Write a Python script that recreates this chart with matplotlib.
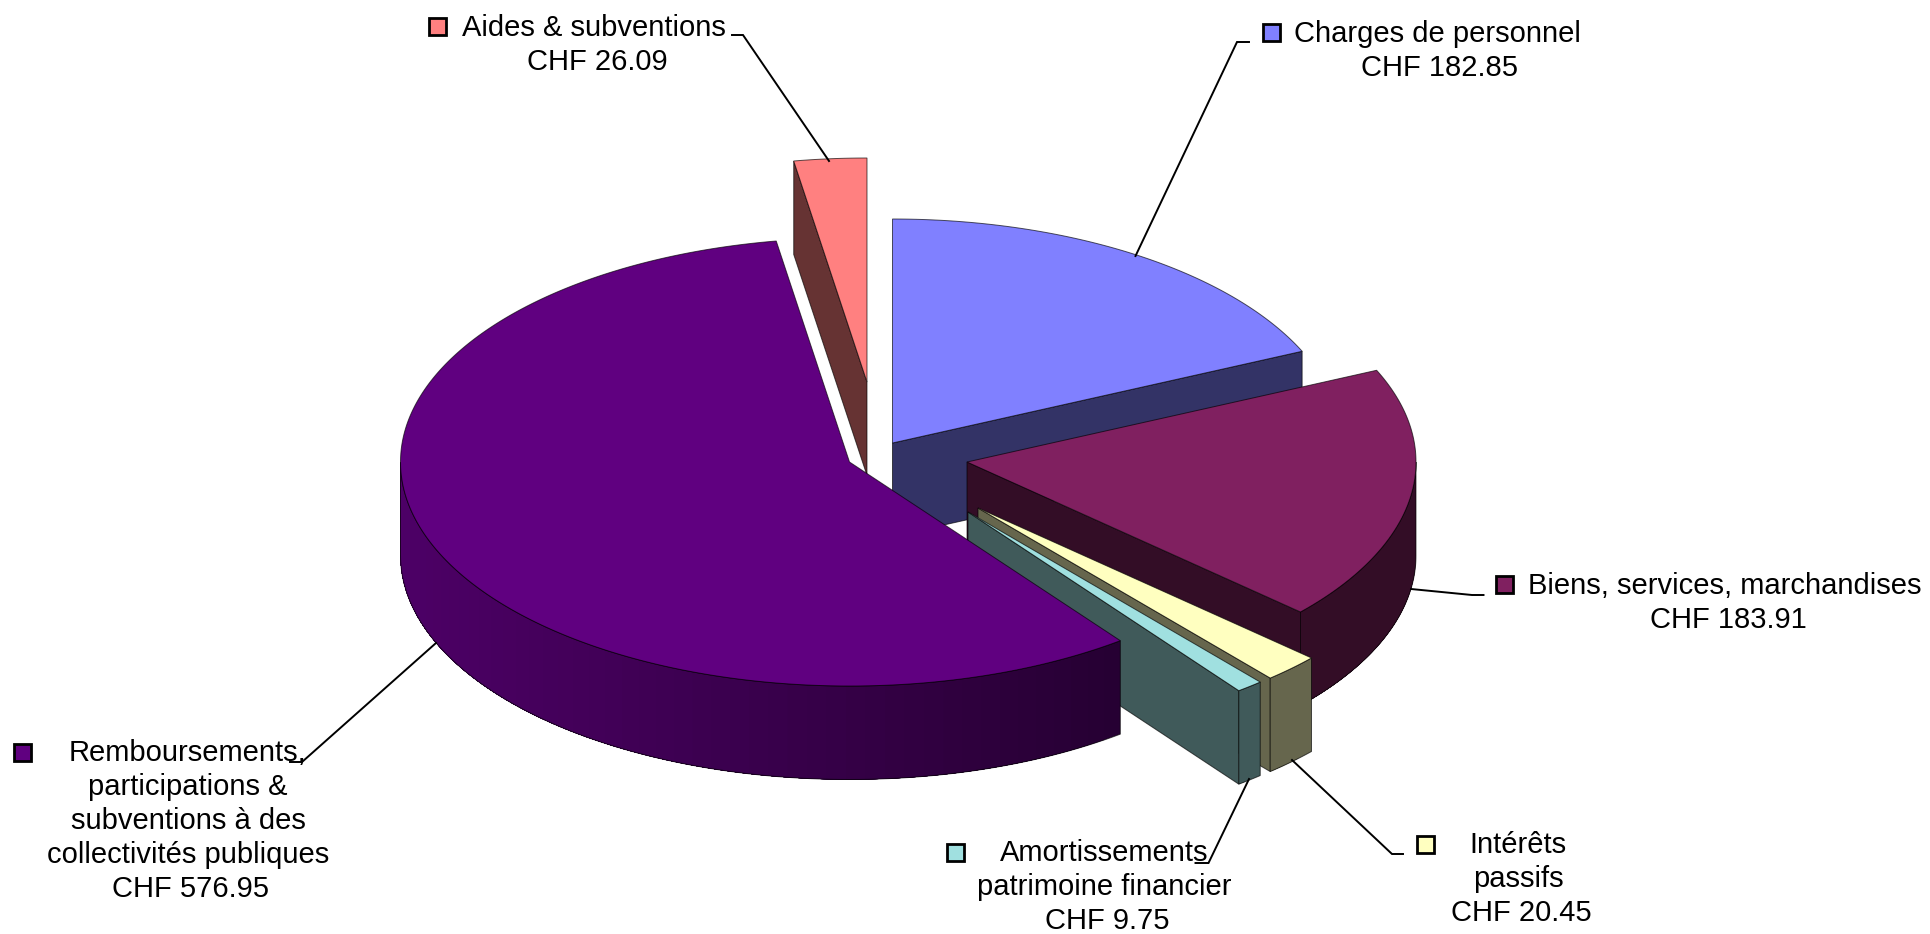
"""Camembert 3D des charges, dessiné face par face."""
import numpy as np
import matplotlib
matplotlib.use("Agg")
import matplotlib.pyplot as plt
from matplotlib.colors import to_rgb
from matplotlib.patches import Polygon, Rectangle

plt.rcParams["font.family"] = ["Liberation Sans", "DejaVu Sans"]

# ------------ données -----------------
names = [
    ["Charges de personnel"],
    ["Biens, services, marchandises"],
    ["Intérêts", "passifs"],
    ["Amortissements", "patrimoine financier"],
    ["Remboursements,", "participations &", "subventions à des", "collectivités publiques"],
    ["Aides & subventions"],
]
values = [182.85, 183.91, 20.45, 9.75, 576.95, 26.09]
colors = ["#8080ff", "#802060", "#ffffc0", "#a0e0e0", "#600080", "#ff8080"]

# ------------ mise en page (pixels) -----------------
tips = [(892.5, 443), (967, 462), (978, 508), (968, 512), (849.5, 462), (867, 382)]
RX, RY, DEPTH = 449, 224, 93.5
label_cx = [1437, 1725, 1518, 1104, 188, 594]
label_y = [34, 586, 845, 853, 753, 28]
key_xy = [(1272, 32), (1505, 584), (1426, 844), (956, 852), (23, 752), (438, 26)]
leaders = [
    [(1249, 42), (1237, 42), (1135.5, 256)],
    [(1483.5, 595), (1472, 595), (1411, 589)],
    [(1403, 854), (1392, 854), (1292, 760)],
    [(1195.5, 863), (1208.5, 863), (1249, 779)],
    [(290, 762), (302, 762), (436, 643)],
    [(732, 35), (743, 35), (829, 161)],
]
LINE_H = 34
EDGE = (0, 0, 0, 0.65)


def rim(tip, angles, drop=0.0):
    t = np.radians(angles)
    return np.column_stack((tip[0] + RX * np.sin(t), tip[1] - RY * np.cos(t) + drop))


def shade(color, angle):
    # mur clair à gauche, sombre à droite
    f = np.clip(0.4 + 0.4 * (0.6 - np.sin(np.radians(angle))) / 1.6, 0.4, 0.8)
    return tuple(c * f for c in to_rgb(color))


def draw_slice(ax, tip, a0, a1, color):
    dark = tuple(c * 0.4 for c in to_rgb(color))
    # faces de coupe visibles
    for a, visible in ((a0, np.sin(np.radians(a0)) < -1e-6), (a1, np.sin(np.radians(a1)) > 1e-6)):
        if visible:
            p = rim(tip, [a])[0]
            ax.add_patch(Polygon([tip, p, (p[0], p[1] + DEPTH), (tip[0], tip[1] + DEPTH)],
                                 fc=dark, ec=EDGE, lw=0.7))
    # paroi extérieure : chaque bande recouvre le reste pour éviter les joints
    w0, w1 = max(a0, 90), min(a1, 270)
    if w1 > w0:
        for u in np.arange(w0, w1, 2.5):
            arc = np.linspace(u, w1, 60)
            ax.add_patch(Polygon(np.vstack((rim(tip, arc), rim(tip, arc[::-1], DEPTH))),
                                 fc=shade(color, u), ec="none"))
        arc = np.linspace(w0, w1, 100)
        outline = np.vstack((rim(tip, arc), rim(tip, arc[::-1], DEPTH)))
        ax.add_patch(Polygon(outline, fc="none", ec=EDGE, lw=0.7))
    # dessus
    arc = np.linspace(a0, a1, max(int(a1 - a0) * 2, 4))
    ax.add_patch(Polygon(np.vstack(([tip], rim(tip, arc))), fc=color, ec=EDGE, lw=0.7))


fig = plt.figure(figsize=(19.31, 9.34), dpi=100)
ax = fig.add_axes([0, 0, 1, 1])
ax.set_xlim(0, 1931)
ax.set_ylim(934, 0)
ax.axis("off")

angles = np.cumsum([0] + values) / sum(values) * 360
# Aides d'abord : elle est derrière tout le reste
order = [5, 0, 1, 2, 3, 4]
for i in order:
    draw_slice(ax, tips[i], angles[i], angles[i + 1], colors[i])

for i, name in enumerate(names):
    xs, ys = zip(*leaders[i])
    ax.plot(xs, ys, color="black", lw=1.4, zorder=5, solid_joinstyle="miter")
    kx, ky = key_xy[i]
    ax.add_patch(Rectangle((kx - 8.5, ky - 8.5), 17, 17, fc=colors[i], ec="black", lw=2, zorder=6))
    lines = name + [f"CHF {values[i]:.2f}"]
    for k, line in enumerate(lines):
        dx = 3 if k == len(lines) - 1 else 0
        ax.text(label_cx[i] + dx, label_y[i] + k * LINE_H, line, fontsize=21, color="black",
                ha="center", va="center", zorder=7)

fig.savefig("out.png", dpi=100, facecolor="white")
